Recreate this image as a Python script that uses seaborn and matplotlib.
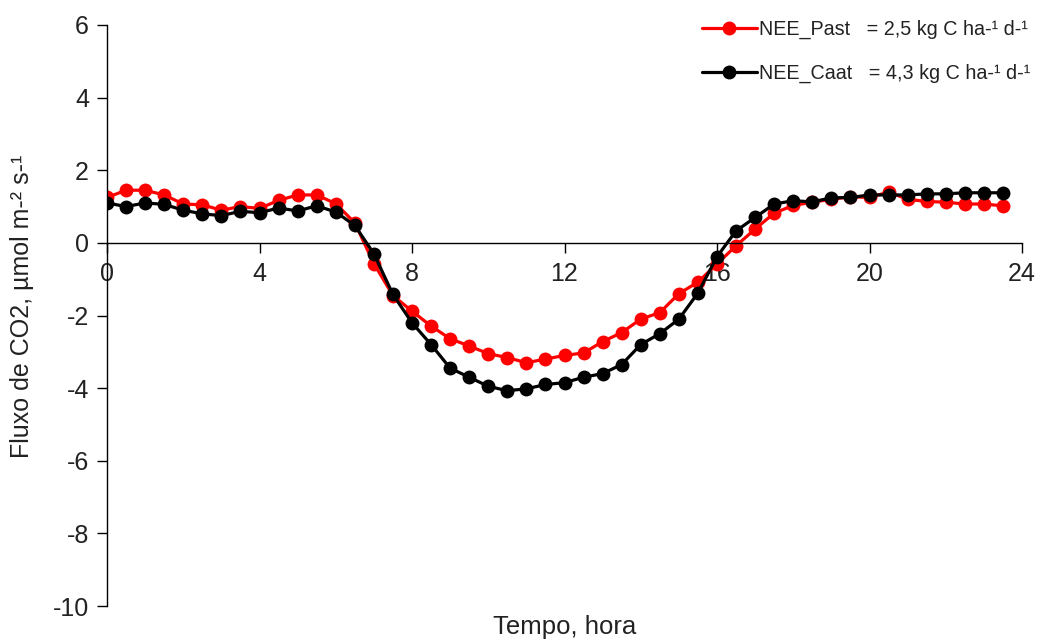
import numpy as np
import pandas as pd
import seaborn as sns
import matplotlib.pyplot as plt

# half-hourly NEE (umol m-2 s-1)
hora = np.arange(0, 24, 0.5)

nee_past = [1.25, 1.45, 1.45, 1.32, 1.07, 1.05, 0.9, 1.0, 0.95, 1.17, 1.32, 1.32,
            1.08, 0.55, -0.57, -1.45, -1.88, -2.29, -2.64, -2.84, -3.05, -3.16, -3.3, -3.2,
            -3.1, -3.03, -2.72, -2.47, -2.1, -1.92, -1.4, -1.08, -0.58, -0.08, 0.38, 0.82,
            1.03, 1.12, 1.2, 1.27, 1.25, 1.4, 1.2, 1.14, 1.12, 1.07, 1.07, 1.02]

nee_caat = [1.1, 1.0, 1.1, 1.06, 0.9, 0.8, 0.75, 0.87, 0.83, 0.96, 0.88, 1.02,
            0.85, 0.48, -0.3, -1.42, -2.2, -2.8, -3.45, -3.7, -3.95, -4.07, -4.02, -3.9,
            -3.85, -3.7, -3.6, -3.35, -2.8, -2.5, -2.1, -1.38, -0.38, 0.33, 0.7, 1.07,
            1.16, 1.13, 1.24, 1.25, 1.32, 1.32, 1.32, 1.35, 1.35, 1.38, 1.38, 1.38]

labels = ["NEE_Past   = 2,5 kg C ha-\u00b9 d-\u00b9",
          "NEE_Caat   = 4,3 kg C ha-\u00b9 d-\u00b9"]
cores = ["#ff0000", "#000000"]

sns.set_theme(style="white")
plt.rcParams["font.family"] = ["Liberation Sans", "DejaVu Sans"]
plt.rcParams["axes.unicode_minus"] = False

fig = plt.figure(figsize=(10.45, 6.4), dpi=100)
ax = fig.add_axes([107 / 1045, 1 - 606 / 640, 915 / 1045, 581 / 640])

for serie, lab, cor in zip([nee_past, nee_caat], labels, cores):
    df = pd.DataFrame({"hora": hora, "nee": serie})
    sns.lineplot(data=df, x="hora", y="nee", ax=ax, color=cor, label=lab,
                 linewidth=2.3, marker="o", markersize=10, markeredgewidth=0)

ax.set_xlim(0, 24)
ax.set_ylim(-10, 6)
ax.set_xticks(np.arange(0, 25, 4))
ax.set_yticks(np.arange(-10, 7, 2))
ax.spines["bottom"].set_position(("data", 0))
ax.spines["top"].set_visible(False)
ax.spines["right"].set_visible(False)
for s in ["left", "bottom"]:
    ax.spines[s].set_color("black")
    ax.spines[s].set_linewidth(1.0)
ax.tick_params(axis="both", which="major", direction="out", length=7, width=1.0,
               color="black", labelsize=18, labelcolor="#222222",
               bottom=True, left=True)
ax.tick_params(axis="y", pad=6)
ax.tick_params(axis="x", pad=7)
ax.set_xlabel("")
ax.set_ylabel("")

fig.text(565 / 1045, 1 - 627 / 640, "Tempo, hora", ha="center", va="center",
         fontsize=18.5, color="#222222")
fig.text(22 / 1045, 1 - 306 / 640, "Fluxo de CO2, \u00b5mol m-\u00b2 s-\u00b9",
         ha="center", va="center", rotation=90, fontsize=18, color="#222222")

leg = ax.legend(loc="upper left", bbox_to_anchor=(692 / 1045, 1 - 10 / 640),
                bbox_transform=fig.transFigure, frameon=False, fontsize=14.2,
                handlelength=2.8, handletextpad=0.1, labelspacing=1.25, borderpad=0)
for t in leg.get_texts():
    t.set_color("#222222")

fig.savefig("out.png", dpi=100)
